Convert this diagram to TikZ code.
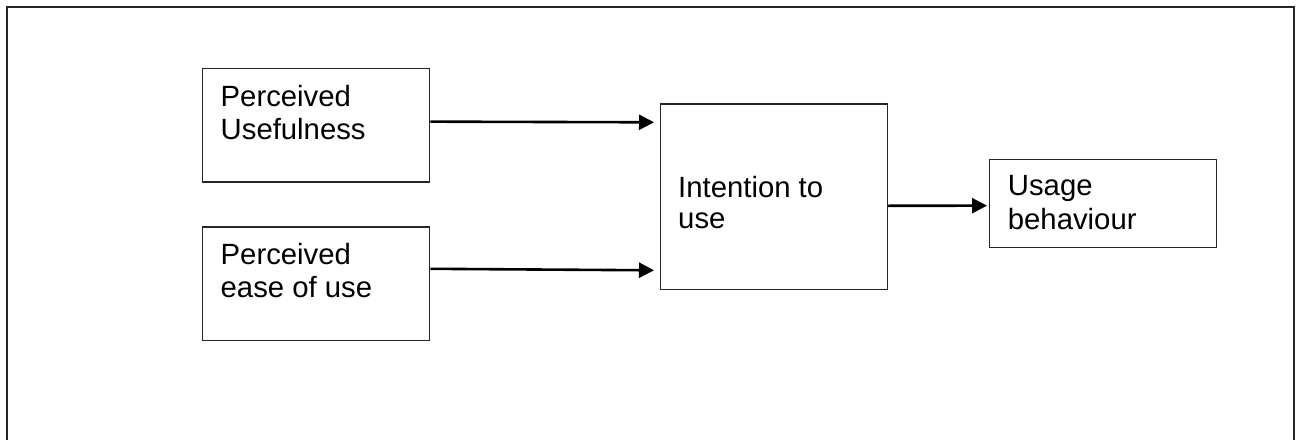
\documentclass[tikz,border=0pt]{standalone}
\usepackage{fontspec}
\setmainfont{Liberation Sans}
\usetikzlibrary{arrows.meta,calc}
\begin{document}
\begin{tikzpicture}[x=1pt,y=-1pt,
  box/.style={draw=black!85, line width=1.3pt, rectangle, inner sep=0pt, anchor=north west},
  txt/.style={anchor=base west, inner sep=0pt, font=\fontsize{29.3}{33}\selectfont},
  arr/.style={draw=black, line width=2.6pt, -{Triangle[length=15pt,width=15pt]}},
  frame/.style={draw=black!85, line width=1.5pt}]
\clip (0,0) rectangle (1300,439);
\fill[white] (0,0) rectangle (1300,439);
% outer frame
\coordinate (fbl) at (7,450);
\coordinate (ftl) at (7,7);
\coordinate (ftr) at (1294,7);
\coordinate (fbr) at (1294,450);
\draw[frame] (fbl) -- (ftl) -- (ftr) -- (fbr);
% boxes
\node[box, minimum width=227pt, minimum height=113.6pt] (pu) at (202,67.7) {};
\node[box, minimum width=227pt, minimum height=113.7pt] (pe) at (202,226.3) {};
\node[box, minimum width=226.7pt, minimum height=185.7pt] (it) at (660,103.3) {};
\node[box, minimum width=226.7pt, minimum height=88pt] (ub) at (989,159) {};
% texts
\node[txt] (pu1) at (220.5,106) {Perceived};
\node[txt] (pu2) at (220.5,139) {Usefulness};
\node[txt] (pe1) at (220.5,264) {Perceived};
\node[txt] (pe2) at (220.5,297) {ease of use};
\node[txt] (it1) at (678,197.3) {Intention to};
\node[txt] (it2) at (678,228.7) {use};
\node[txt] (ub1) at (1007.7,195.7) {Usage};
\node[txt] (ub2) at (1007.7,229.5) {behaviour};
% arrows
\draw[arr] ([yshift=3.5pt]pu.east) -- ([xshift=-6pt,yshift=-19pt]it.north west);
\draw[arr] ([yshift=15pt]pe.east) -- ([xshift=-6pt,yshift=20pt]it.south west);
\draw[arr] ([yshift=-9pt]it.east) -- ([xshift=-2pt,yshift=-2pt]ub.west);
\end{tikzpicture}
\end{document}
